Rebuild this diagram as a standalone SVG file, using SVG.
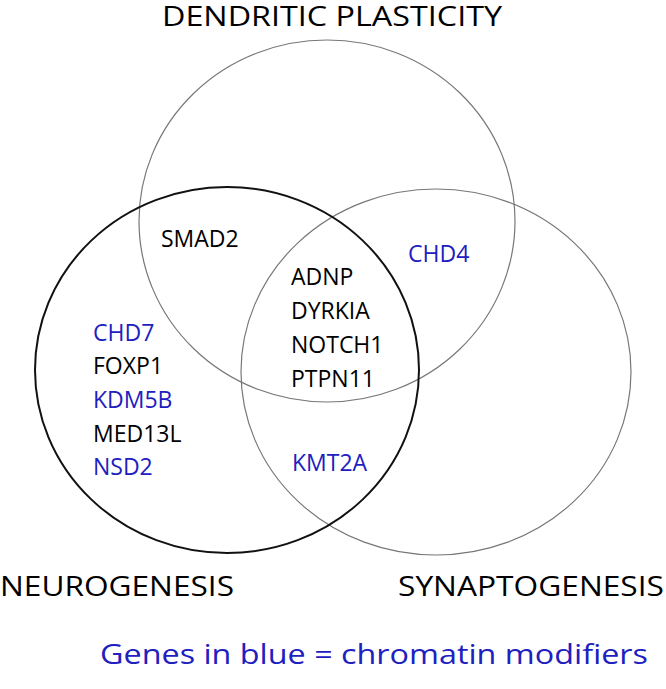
<svg xmlns="http://www.w3.org/2000/svg" width="666" height="689" viewBox="0 0 666 689">
<style>
.c{fill:none;stroke:#777;stroke-width:1.2}
.k{fill:none;stroke:#111;stroke-width:2}
text{font-family:"Open Sans","Liberation Sans",sans-serif;font-size:23px;fill:#000}
.b{fill:#2020c0}
.t{font-size:28px}
</style>
<rect width="666" height="689" fill="#fff"/>
<g id="circles">
<ellipse id="dendritic" class="c" cx="327" cy="221" rx="188" ry="181"/>
<ellipse id="synapto" class="c" cx="436" cy="372" rx="195" ry="183"/>
<ellipse id="neuro" class="k" cx="227" cy="370" rx="192" ry="183"/>
</g>
<g id="labels">
<text class="t" x="162" y="26" textLength="340" lengthAdjust="spacingAndGlyphs">DENDRITIC PLASTICITY</text>
<text class="t" x="0" y="596" textLength="234" lengthAdjust="spacingAndGlyphs">NEUROGENESIS</text>
<text class="t" x="398" y="596" textLength="266" lengthAdjust="spacingAndGlyphs">SYNAPTOGENESIS</text>
<text class="b t" x="100" y="664" textLength="548" lengthAdjust="spacingAndGlyphs">Genes in blue = chromatin modifiers</text>
</g>
<g id="genes">
<text x="161" y="247">SMAD2</text>
<text class="b" x="408" y="262">CHD4</text>
<text x="291" y="285">ADNP</text>
<text x="291" y="319">DYRKIA</text>
<text x="291" y="353">NOTCH1</text>
<text x="291" y="387">PTPN11</text>
<text class="b" x="93" y="341">CHD7</text>
<text x="93" y="374">FOXP1</text>
<text class="b" x="93" y="408">KDM5B</text>
<text x="93" y="442">MED13L</text>
<text class="b" x="93" y="475">NSD2</text>
<text class="b" x="292" y="471">KMT2A</text>
</g>
</svg>
